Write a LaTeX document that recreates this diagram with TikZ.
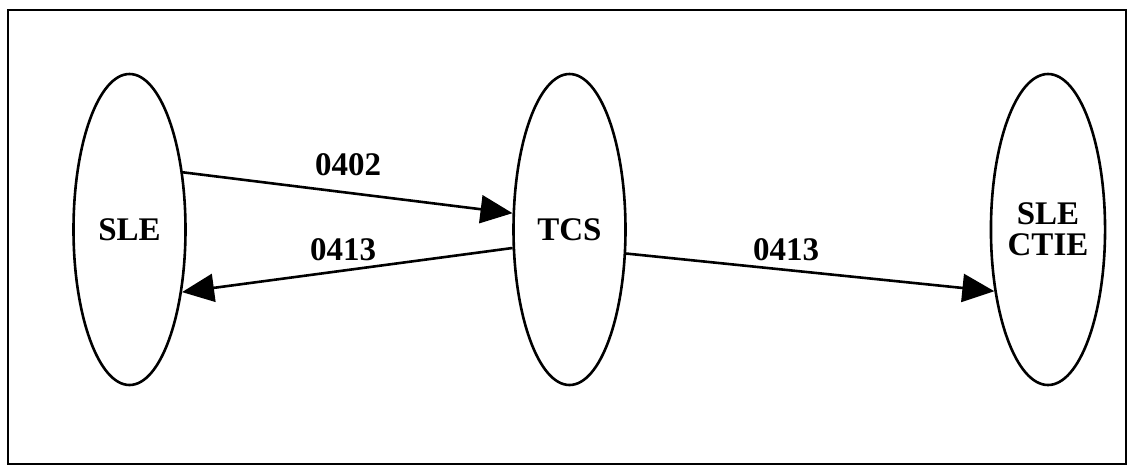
\documentclass[tikz,border=0pt]{standalone}
\usepackage{fontspec}
\setmainfont{Liberation Serif}
\usetikzlibrary{positioning, shapes, arrows.meta}

\begin{document}
\begin{tikzpicture}[x=1pt, y=-1pt, line width=2.6pt,
        unit/.style={ellipse, draw, minimum width=112pt, minimum height=311pt, inner sep=0pt,
            font=\fontsize{33}{31}\selectfont\bfseries, align=center},
        msg/.style={font=\fontsize{33}{31}\selectfont\bfseries},
        flow/.style={-{Triangle[length=32pt, width=28pt]}}]
        \useasboundingbox (0,0) rectangle (1135,472);
        \draw (8,10) rectangle (1126,464);
        \begin{scope}
            \node[unit] (sle) at (129.5,229.5) {SLE};
            \node[unit] (tcs) at (569.5,229.5) {TCS};
            \node[unit] (ctie) at (1048,229.5) {SLE\\CTIE};
            \node[msg] (m1) at (348,165) {0402};
            \node[msg] (m2) at (343,250) {0413};
            \node[msg] (m3) at (786,250) {0413};
            \draw[flow] (sle.47) -- (tcs.164);
            \draw[flow] (tcs.198) -- (sle.-50);
            \draw[flow] (tcs.-23) -- (ctie.229);
        \end{scope}
    \end{tikzpicture}
\end{document}
